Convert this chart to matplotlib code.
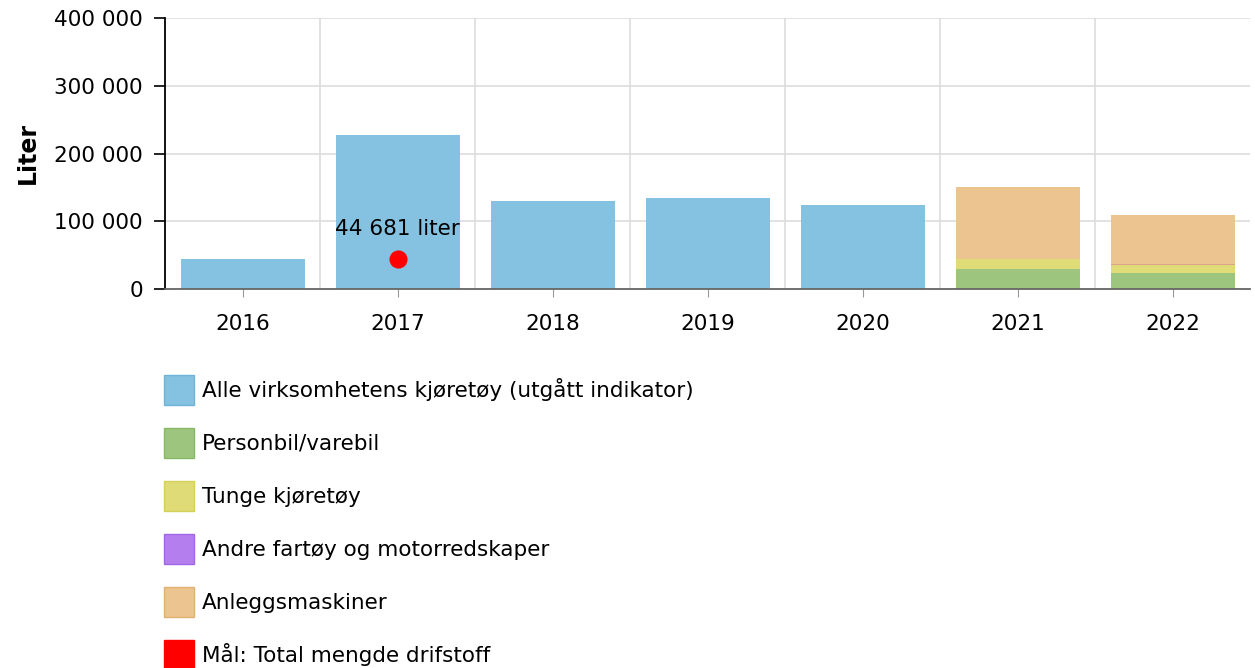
import numpy as np
import matplotlib.pyplot as plt
from matplotlib.patches import Patch
from matplotlib.ticker import FuncFormatter

years = ["2016", "2017", "2018", "2019", "2020", "2021", "2022"]
alle = [45000, 228000, 130000, 134000, 124000, 0, 0]
personbil = [0, 0, 0, 0, 0, 29500, 24000]
tunge = [0, 0, 0, 0, 0, 14500, 11500]
andre = [0, 0, 0, 0, 0, 0, 1200]
anlegg = [0, 0, 0, 0, 0, 107000, 73000]
maal_year = "2017"
maal_value = 44681

labels = [
    "Alle virksomhetens kjøretøy (utgått indikator)",
    "Personbil/varebil",
    "Tunge kjøretøy",
    "Andre fartøy og motorredskaper",
    "Anleggsmaskiner",
    "Mål: Total mengde drifstoff",
]
colors = ["#85c1e0", "#9dc57d", "#dfdc77", "#b57eee", "#ebc48f", "#ff0000"]
edges = ["#6fb3d8", "#86b865", "#d4d05a", "#a066e6", "#e0b070", "#ff0000"]

plt.rcParams['font.family'] = ['DejaVu Sans']
fs = 15.5

fig = plt.figure(figsize=(12.55, 6.68), dpi=100)
ax = fig.add_axes([165 / 1255, 1 - 289 / 668, 1085 / 1255, 271 / 668])

x = np.arange(len(years))
w = 0.8
ax.bar(x, alle, w, color=colors[0], zorder=2)
bottom = np.zeros(len(years))
# purple segment is a hair-thin band, it shows blended with the orange above it
for vals, c in zip([personbil, tunge, andre, anlegg], ["#9dc57d", "#dfdc77", "#dba48c", "#ebc48f"]):
    ax.bar(x, vals, w, bottom=bottom, color=c, zorder=2)
    bottom += np.array(vals)

xi = years.index(maal_year)
ax.scatter([xi], [maal_value], s=170, color="red", zorder=4, linewidths=0)
ax.annotate("{:,} liter".format(maal_value).replace(",", " "),
            (xi, maal_value), xytext=(0, 14), textcoords="offset points",
            ha="center", va="bottom", fontsize=fs, zorder=5)

ax.set_xlim(-0.5, len(years) - 0.5)
ax.set_ylim(0, 400000)
ax.set_yticks(np.arange(0, 400001, 100000))
ax.yaxis.set_major_formatter(FuncFormatter(lambda v, p: "{:,}".format(int(v)).replace(",", " ")))
ax.set_xticks(x)
ax.set_xticklabels(years)
ax.set_xticks(x[:-1] + 0.5, minor=True)
ax.tick_params(axis="x", which="major", length=6, color="#999999", labelsize=fs, pad=12)
ax.tick_params(axis="x", which="minor", length=0)
ax.tick_params(axis="y", length=8, width=1.2, labelsize=fs, pad=8)
ax.grid(True, axis="y", color="#dddddd", linewidth=1.2, zorder=0)
ax.grid(True, axis="x", which="minor", color="#dddddd", linewidth=1.2, zorder=0)
for s in ["top", "right"]:
    ax.spines[s].set_visible(False)
ax.spines["left"].set_linewidth(1.3)
ax.spines["bottom"].set_color("#666666")
ax.spines["bottom"].set_linewidth(1.3)
ax.spines["bottom"].set_zorder(3)
ax.set_ylabel("Liter", fontsize=17, fontweight="bold", labelpad=10)

handles = [Patch(facecolor=c, edgecolor=e, linewidth=1) for c, e in zip(colors, edges)]
fig.legend(handles, labels, loc="upper left", bbox_to_anchor=(164 / 1255, 1 - 375 / 668),
           frameon=False, fontsize=fs, handlelength=1.4, handleheight=1.75,
           handletextpad=0.35, labelspacing=1.08, borderaxespad=0, borderpad=0)

fig.savefig("out.png", dpi=100)
